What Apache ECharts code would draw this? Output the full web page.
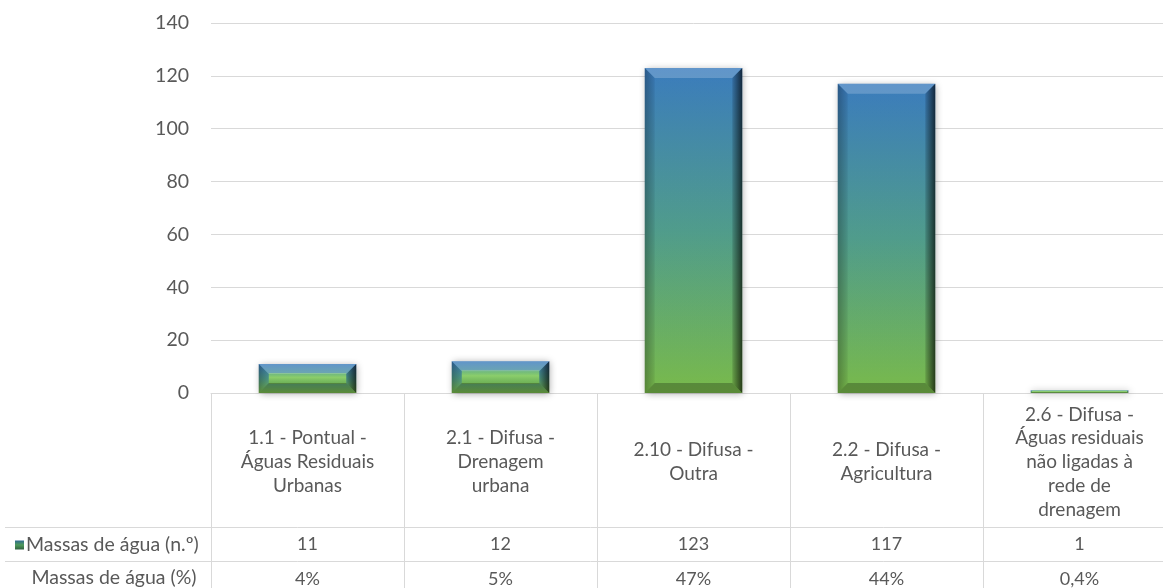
<!DOCTYPE html>
<html>
<head>
<meta charset="utf-8">
<script src="https://cdn.jsdelivr.net/npm/echarts@6/dist/echarts.min.js"></script>
<style>
  html, body { margin: 0; padding: 0; background: #ffffff; overflow: hidden; }
  /* the last table column runs past the right edge of the view */
  #chart { width: 1176px; height: 588px; }
</style>
</head>
<body>
<div id="chart"></div>
<script>
// Pressure categories (line breaks follow the table header cells)
const categories = [
  '1.1 - Pontual -\nÁguas Residuais\nUrbanas',
  '2.1 - Difusa -\nDrenagem\nurbana',
  '2.10 - Difusa -\nOutra',
  '2.2 - Difusa -\nAgricultura',
  '2.6 - Difusa -\nÁguas residuais\nnão ligadas à\nrede de\ndrenagem'
];
// Number of water bodies per pressure
const counts = [11, 12, 123, 117, 1];
// Share of water bodies per pressure (%)
const shares = [4, 5, 47, 44, 0.4];
// Value axis ticks
const yMin = 0;
const yMax = 140;
const yStep = 20;

const countRowName = 'Massas de água (n.º)';
const shareRowName = 'Massas de água (%)';

const FONT = 'Lato';
const TEXT = '#595959';
const LINE = '#d9d9d9';

const shareLabels = shares.map(v => String(v).replace('.', ',') + '%');
const countLabels = counts.map(v => String(v));

const G = echarts.graphic.LinearGradient;

const bodyStops = () => [
  { offset: 0, color: '#3a7bbd' },
  { offset: 0.5, color: '#4f9b8c' },
  { offset: 1, color: '#79ba4b' }
];

// Bevelled bar: body + four edge facets, sized from the axis scales
function renderBevelBar(params, api) {
  const idx = api.value(0);
  const val = api.value(1);
  const top = api.coord([idx, val]);
  const base = api.coord([idx, 0]);
  const w = api.size([1, 0])[0] * 0.505;
  const x0 = top[0] - w / 2, x1 = top[0] + w / 2;
  const y0 = top[1], y1 = base[1];
  const h = y1 - y0;
  const b = Math.max(0, Math.min(10, h / 2.8, w / 2));
  // low bars show a lit green face between the bevels
  const glow = Math.min(0.85, Math.pow(40 / Math.max(h, 1), 2));
  return {
    type: 'group',
    children: [
      {
        type: 'rect',
        shape: { x: x0, y: y0, width: w, height: h },
        style: {
          fill: new G(0, 0, 0, 1, bodyStops()),
          shadowBlur: 7,
          shadowColor: 'rgba(0,0,0,0.35)',
          shadowOffsetX: 1,
          shadowOffsetY: 1
        }
      },
      {
        type: 'rect',
        shape: { x: x0 + b, y: y0 + b - 1, width: Math.max(0, w - 2 * b), height: Math.max(0, h - 2 * b + 2) },
        style: {
          fill: new G(0, 0, 0, 1, [
            { offset: 0, color: 'rgba(130,205,110,' + (glow * 0.7) + ')' },
            { offset: 0.4, color: 'rgba(150,215,100,' + glow + ')' },
            { offset: 1, color: 'rgba(115,180,70,' + (glow * 0.8) + ')' }
          ])
        }
      },
      {
        type: 'polygon',
        shape: { points: [[x0, y0], [x1, y0], [x1 - b, y0 + b], [x0 + b, y0 + b]] },
        style: { fill: 'rgba(255,255,255,0.2)' }
      },
      {
        type: 'polygon',
        shape: { points: [[x0, y0], [x0 + b, y0 + b], [x0 + b, y1 - b], [x0, y1]] },
        style: {
          fill: new G(0, 0, 1, 0, [
            { offset: 0, color: 'rgba(0,0,0,0.28)' },
            { offset: 1, color: 'rgba(0,0,0,0.06)' }
          ])
        }
      },
      {
        type: 'polygon',
        shape: { points: [[x1, y0], [x1, y1], [x1 - b, y1 - b], [x1 - b, y0 + b]] },
        style: {
          fill: new G(0, 0, 1, 0, [
            { offset: 0, color: 'rgba(0,0,0,0.12)' },
            { offset: 1, color: 'rgba(0,0,0,0.68)' }
          ])
        }
      },
      {
        type: 'polygon',
        shape: { points: [[x0, y1], [x0 + b, y1 - b], [x1 - b, y1 - b], [x1, y1]] },
        style: { fill: 'rgba(0,0,0,0.25)' }
      }
    ]
  };
}

const chart = echarts.init(document.getElementById('chart'), null, { renderer: 'canvas' });

const tableAxis = (labels, margin) => ({
  type: 'category',
  gridIndex: 0,
  position: 'bottom',
  data: labels,
  axisLine: { show: false },
  axisTick: { show: false },
  axisLabel: {
    interval: 0,
    margin: margin,
    verticalAlign: 'middle',
    color: TEXT,
    fontFamily: FONT,
    fontSize: 18
  }
});

chart.setOption({
  animation: false,
  backgroundColor: '#ffffff',
  textStyle: { fontFamily: FONT, color: TEXT },
  grid: { left: 211, right: 0, top: 23, bottom: 195, containLabel: false },
  legend: {
    left: 15,
    top: 535,
    padding: 0,
    selectedMode: false,
    itemWidth: 9,
    itemHeight: 9,
    icon: 'rect',
    data: [countRowName],
    textStyle: { color: TEXT, fontFamily: FONT, fontSize: 19.5, padding: [0, 0, 0, -3] }
  },
  xAxis: [
    {
      type: 'category',
      data: categories,
      axisLine: { show: true, lineStyle: { color: LINE, width: 1 } },
      axisTick: { show: true, length: 200, lineStyle: { color: LINE, width: 1 } },
      axisLabel: {
        interval: 0,
        margin: 69,
        verticalAlign: 'middle',
        align: 'center',
        lineHeight: 23.8,
        color: TEXT,
        fontFamily: FONT,
        fontSize: 19
      }
    },
    tableAxis(countLabels, 151),
    tableAxis(shareLabels, 186)
  ],
  yAxis: {
    type: 'value',
    min: yMin,
    max: yMax,
    interval: yStep,
    axisLine: { show: false },
    axisTick: { show: false },
    splitLine: { lineStyle: { color: LINE, width: 1 } },
    axisLabel: { margin: 22, color: TEXT, fontFamily: FONT, fontSize: 19.5 }
  },
  series: [
    {
      name: countRowName,
      type: 'custom',
      xAxisIndex: 0,
      renderItem: renderBevelBar,
      itemStyle: { color: new G(0, 0, 0, 1, [
        { offset: 0, color: '#2f6a8f' },
        { offset: 0.5, color: '#4e9a5a' },
        { offset: 1, color: '#2f5f40' }
      ]) },
      encode: { x: 0, y: 1 },
      data: counts.map((v, i) => [i, v])
    }
  ],
  graphic: [
    { type: 'line', shape: { x1: 5, y1: 527.5, x2: 1176, y2: 527.5 }, style: { stroke: LINE, lineWidth: 1 } },
    { type: 'line', shape: { x1: 5, y1: 561.5, x2: 1176, y2: 561.5 }, style: { stroke: LINE, lineWidth: 1 } },
    {
      type: 'text',
      x: 114, y: 578,
      style: {
        text: shareRowName, fill: TEXT, font: '19.5px ' + FONT,
        textAlign: 'center', textVerticalAlign: 'middle'
      }
    }
  ]
});
</script>
</body>
</html>
